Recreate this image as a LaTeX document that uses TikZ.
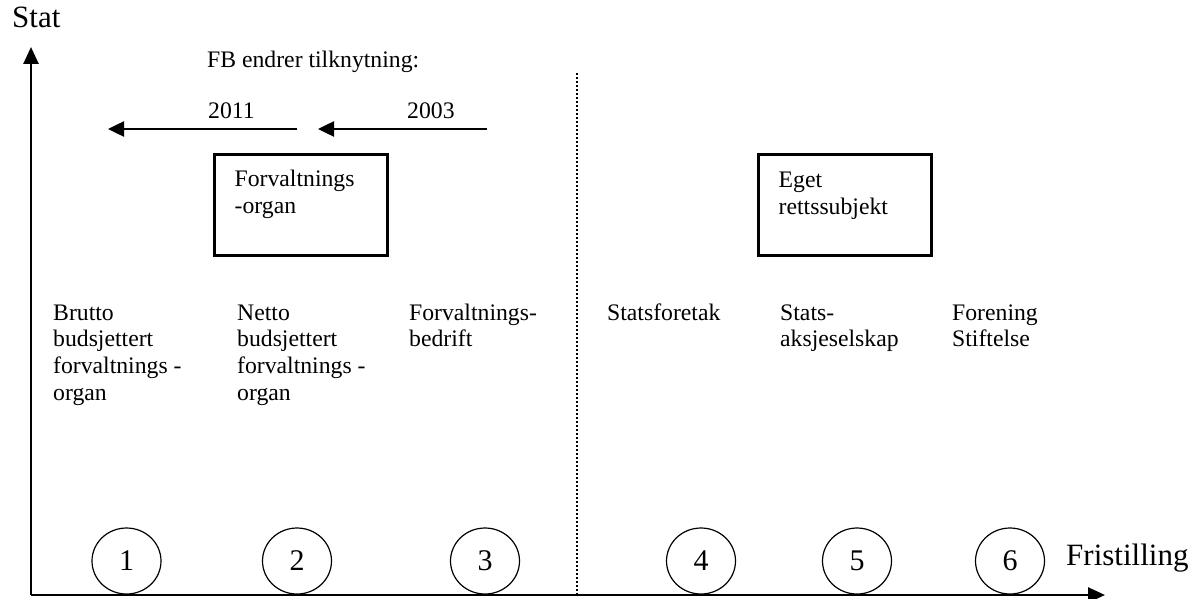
\documentclass[tikz,border=0pt]{standalone}
\usepackage{fontspec}
\setmainfont{Liberation Serif}
\usetikzlibrary{arrows.meta,shapes.geometric}
\tikzstyle{coltext} = [anchor=base west, align=left, inner sep=0pt, font=\fontsize{23.7}{26.8}\selectfont]
\tikzstyle{axtext} = [anchor=base west, inner sep=0pt, font=\fontsize{31}{34}\selectfont]
\tikzstyle{box} = [draw=black, line width=3pt, minimum width=173pt, minimum height=101pt, inner sep=0pt]
\tikzstyle{num} = [ellipse, draw=black, line width=1.2pt, minimum width=69pt, minimum height=66pt, inner sep=0pt, font=\fontsize{30}{32}\selectfont]

\begin{document}
\begin{tikzpicture}[x=1pt, y=-1pt]
			\tikzset{axis/.style={line width=2.7pt, -{Triangle[length=17pt,width=15pt]}},
				move/.style={line width=2.5pt, -{Triangle[length=16pt,width=15pt]}}}
			\useasboundingbox (0,0) rectangle (1198,599);
			% axes
			\coordinate (o) at (31,595);
			\coordinate (ytip) at (31,47);
			\coordinate (xtip) at (1105,595);
			\draw[axis] (o) -- (ytip);
			\draw[axis] (o) -- (xtip);
			\node[axtext] (stat) at (12,28) {Stat};
			\node[axtext] (fristilling) at (1066,565) {Fristilling};
			% skillelinje
			\coordinate (skilletopp) at (577,73);
			\coordinate (skillebunn) at (577,595);
			\draw[line width=2pt, dash pattern=on 2pt off 2pt] (skilletopp) -- (skillebunn);
			% endret tilknytning
			\node[coltext] (fb) at (207,68) {FB endrer tilknytning:};
			\node[coltext] (aar2011) at (208,118) {2011};
			\node[coltext] (aar2003) at (407,118) {2003};
			\coordinate (a2011fra) at (297,129);
			\coordinate (a2011til) at (108,129);
			\coordinate (a2003fra) at (487,129);
			\coordinate (a2003til) at (318,129);
			\draw[move] (a2011fra) -- (a2011til);
			\draw[move] (a2003fra) -- (a2003til);
			% bokser (base = siste linje)
			\node[box] (forvbox) at (300.5,204.5) {};
			\node[coltext] (forvtxt) at ([shift={(22,61)}]forvbox.north west) {Forvaltnings\\-organ};
			\node[box] (egetbox) at (844.5,204.5) {};
			\node[coltext] (egettxt) at ([shift={(22,62)}]egetbox.north west) {Eget\\rettssubjekt};
			% tilknytningsformer
			\node[coltext] (brutto) at (53,400.4) {Brutto\\budsjettert\\forvaltnings -\\organ};
			\node[coltext] (netto) at (237,400.4) {Netto\\budsjettert\\forvaltnings -\\organ};
			\node[coltext] (fbedrift) at (409,346.8) {Forvaltnings-\\bedrift};
			\node[coltext] (sf) at (607,320) {Statsforetak};
			\node[coltext] (sas) at (780,346.8) {Stats-\\aksjeselskap};
			\node[coltext] (forening) at (952,346.8) {Forening\\Stiftelse};
			% nummer
			\foreach \n/\x in {1/126.5, 2/297, 3/485, 4/701, 5/857, 6/1010}
				\node[num] (n\n) at (\x,561) {\n};
		\end{tikzpicture}
\end{document}
